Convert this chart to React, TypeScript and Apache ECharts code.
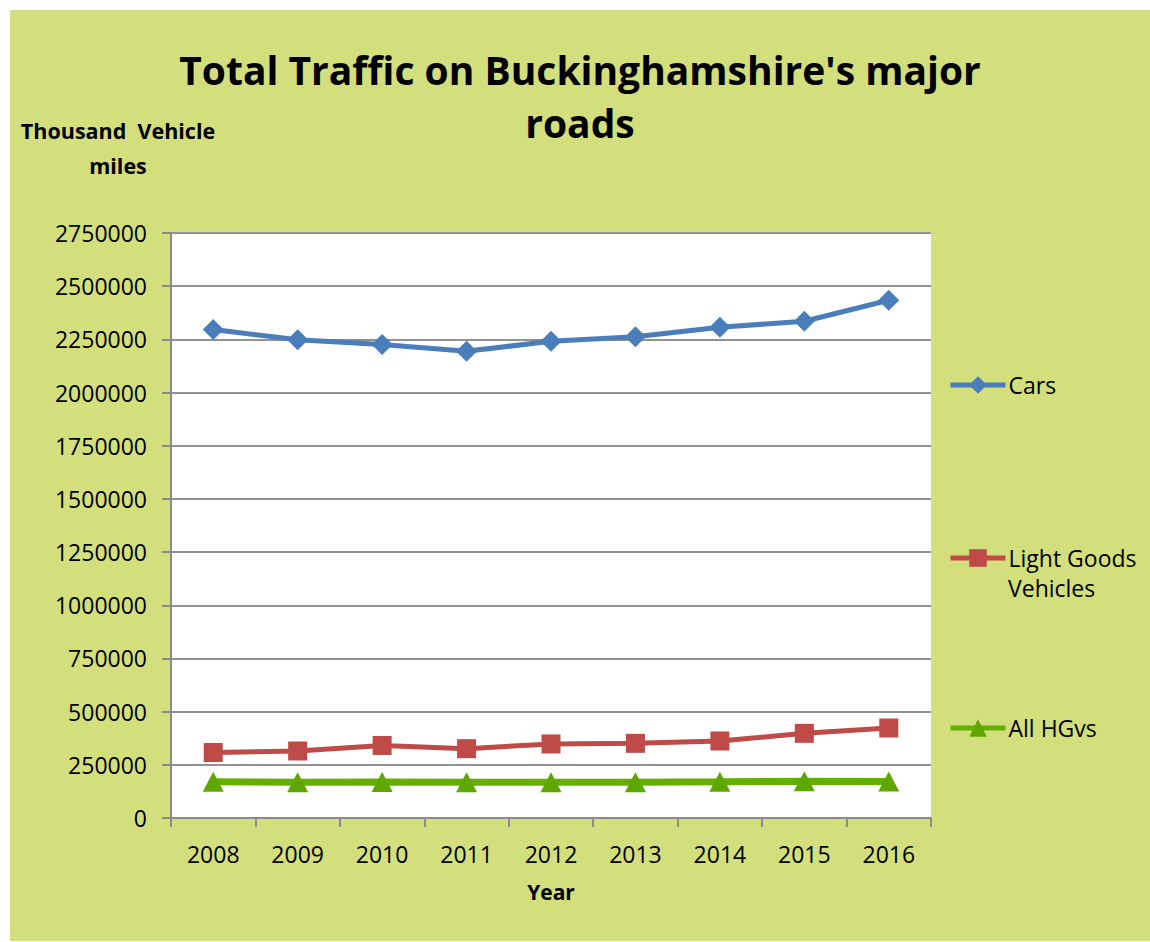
import React, { useEffect, useRef } from "react";
import * as echarts from "echarts";

const years = ["2008", "2009", "2010", "2011", "2012", "2013", "2014", "2015", "2016"];
const cars = [2296000, 2248000, 2226000, 2194000, 2241000, 2262000, 2307000, 2335000, 2434000];
const lgv = [308000, 315000, 341000, 326000, 348000, 351000, 362000, 398000, 423000];
const hgv = [170000, 168000, 169000, 168000, 168000, 168000, 170000, 173000, 172000];

const titleText = "Total Traffic on Buckinghamshire's major\nroads";
const yName = "Thousand  Vehicle\nmiles";
const xName = "Year";

const FONT = "'Open Sans', 'Noto Sans', sans-serif";

export default function App() {
  const ref = useRef<HTMLDivElement>(null);
  useEffect(() => {
    if (!ref.current) return;
    const chart = echarts.init(ref.current, undefined, { renderer: "svg" });
    const gray = "#8a8a8a";
    const legendBase = {
      orient: "vertical",
      left: 933,
      itemWidth: 55,
      itemHeight: 22,
      itemGap: 0,
      selectedMode: false,
      lineStyle: { width: 5 },
      textStyle: { fontFamily: FONT, fontSize: 23, color: "#000", lineHeight: 28, padding: [0, 0, 0, -2] },
    };
    chart.setOption({
      animation: false,
      backgroundColor: "#d2df7c",
      textStyle: { fontFamily: FONT },
      title: {
        text: titleText,
        left: "center",
        top: 28,
        textStyle: { fontFamily: FONT, fontSize: 39, fontWeight: "bold", color: "#000", lineHeight: 53 },
      },
      legend: [
        { ...legendBase, top: 356, data: ["Cars"] },
        { ...legendBase, top: 529, data: ["Light Goods Vehicles"], formatter: () => "Light Goods" },
        { ...legendBase, top: 699, data: ["All HGvs"] },
      ],
      graphic: [
        {
          type: "text",
          left: 998,
          top: 566,
          style: { text: "Vehicles", font: `23px ${FONT}`, fill: "#000" },
        },
      ],
      grid: {
        left: 161,
        top: 223,
        right: 219,
        bottom: 123,
        show: true,
        backgroundColor: "#ffffff",
        borderWidth: 0,
      },
      xAxis: {
        type: "category",
        data: years,
        boundaryGap: true,
        name: xName,
        nameLocation: "middle",
        nameGap: 63,
        nameTextStyle: { fontFamily: FONT, fontSize: 21, fontWeight: "bold", color: "#000" },
        axisLine: { lineStyle: { color: gray, width: 2 } },
        axisTick: { show: true, length: 9, lineStyle: { color: gray, width: 2 } },
        axisLabel: { fontFamily: FONT, fontSize: 23, color: "#000", margin: 24 },
      },
      yAxis: {
        type: "value",
        min: 0,
        max: 2750000,
        interval: 250000,
        name: yName,
        nameLocation: "end",
        nameGap: 50,
        nameTextStyle: {
          fontFamily: FONT,
          fontSize: 21.5,
          fontWeight: "bold",
          color: "#000",
          lineHeight: 35,
          align: "center",
          verticalAlign: "bottom",
          padding: [0, 106, 0, 0],
        },
        axisLine: { show: true, lineStyle: { color: gray, width: 2 } },
        axisTick: { show: true, length: 9, lineStyle: { color: gray, width: 2 } },
        axisLabel: {
          fontFamily: FONT,
          fontSize: 23,
          color: "#000",
          margin: 24,
          formatter: (v: number) => String(v),
        },
        splitLine: { lineStyle: { color: "#929292", width: 2 } },
      },
      series: [
        {
          name: "Cars",
          type: "line",
          data: cars,
          symbol: "diamond",
          symbolSize: 21,
          color: "#4a7ebb",
          lineStyle: { width: 5, color: "#4a7ebb" },
          itemStyle: { color: "#4a7ebb" },
        },
        {
          name: "Light Goods Vehicles",
          type: "line",
          data: lgv,
          symbol: "rect",
          symbolSize: 19,
          color: "#be4b48",
          lineStyle: { width: 5, color: "#be4b48" },
          itemStyle: { color: "#be4b48" },
        },
        {
          name: "All HGvs",
          type: "line",
          data: hgv,
          symbol: "triangle",
          symbolSize: [21, 20],
          color: "#62ad00",
          lineStyle: { width: 7, color: "#64b000" },
          itemStyle: { color: "#5ea600" },
        },
      ],
    });
    return () => chart.dispose();
  }, []);
  return (
    <div
      ref={ref}
      style={{ position: "absolute", left: 10, top: 10, width: 1140, height: 931 }}
    />
  );
}
